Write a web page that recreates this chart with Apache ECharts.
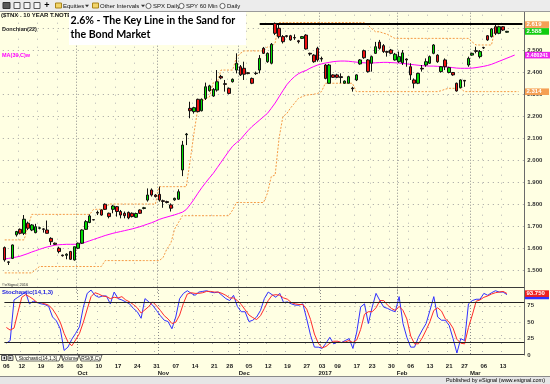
<!DOCTYPE html>
<html><head><meta charset="utf-8">
<script src="https://cdn.jsdelivr.net/npm/echarts@6/dist/echarts.min.js"></script>
<style>html,body{margin:0;padding:0;background:#FFFFE3}#c{width:550px;height:384px}</style>
</head><body><div id="c"></div>
<script>
// ---------- DATA ----------
const dates = [
'2016-09-06','2016-09-07','2016-09-08','2016-09-09','2016-09-12','2016-09-13','2016-09-14','2016-09-15','2016-09-16','2016-09-19','2016-09-20','2016-09-21','2016-09-22','2016-09-23','2016-09-26','2016-09-27','2016-09-28','2016-09-29','2016-09-30',
'2016-10-03','2016-10-04','2016-10-05','2016-10-06','2016-10-07','2016-10-10','2016-10-11','2016-10-12','2016-10-13','2016-10-14','2016-10-17','2016-10-18','2016-10-19','2016-10-20','2016-10-21','2016-10-24','2016-10-25','2016-10-26','2016-10-27','2016-10-28','2016-10-31',
'2016-11-01','2016-11-02','2016-11-03','2016-11-04','2016-11-07','2016-11-08','2016-11-09','2016-11-10','2016-11-11','2016-11-14','2016-11-15','2016-11-16','2016-11-17','2016-11-18','2016-11-21','2016-11-22','2016-11-23','2016-11-25','2016-11-28','2016-11-29','2016-11-30',
'2016-12-01','2016-12-02','2016-12-05','2016-12-06','2016-12-07','2016-12-08','2016-12-09','2016-12-12','2016-12-13','2016-12-14','2016-12-15','2016-12-16','2016-12-19','2016-12-20','2016-12-21','2016-12-22','2016-12-23','2016-12-27','2016-12-28','2016-12-29','2016-12-30',
'2017-01-03','2017-01-04','2017-01-05','2017-01-06','2017-01-09','2017-01-10','2017-01-11','2017-01-12','2017-01-13','2017-01-17','2017-01-18','2017-01-19','2017-01-20','2017-01-23','2017-01-24','2017-01-25','2017-01-26','2017-01-27','2017-01-30','2017-01-31',
'2017-02-01','2017-02-02','2017-02-03','2017-02-06','2017-02-07','2017-02-08','2017-02-09','2017-02-10','2017-02-13','2017-02-14','2017-02-15','2017-02-16','2017-02-17','2017-02-21','2017-02-22','2017-02-23','2017-02-24','2017-02-27','2017-02-28',
'2017-03-01','2017-03-02','2017-03-03','2017-03-06','2017-03-07','2017-03-08','2017-03-09','2017-03-10','2017-03-13','2017-03-14'];
const padCats = ['p1','p2','p3','p4'];

const opens = [
1.605,1.540,1.556,1.663,1.688,1.670,1.716,1.685,1.673,1.693,
1.690,1.685,1.647,1.625,1.602,1.571,1.570,1.587,1.549,1.602,
1.625,1.688,1.719,1.732,1.765,1.776,1.802,1.761,1.779,1.791,
1.769,1.761,1.765,1.761,1.743,1.776,1.783,1.821,1.867,1.844,
1.847,1.818,1.814,1.799,1.822,1.825,1.958,2.118,2.238,2.223,
2.279,2.227,2.283,2.318,2.294,2.321,2.383,2.350,2.329,2.359,
2.412,2.427,2.420,2.400,2.374,2.398,2.412,2.511,2.450,2.443,
2.624,2.602,2.564,2.568,2.568,2.560,2.545,2.556,2.571,2.488,
2.480,2.511,2.465,2.435,2.352,2.390,2.390,2.382,2.352,2.352,
2.330,2.367,2.440,2.500,2.458,2.443,2.488,2.539,2.523,2.496,
2.503,2.458,2.450,2.445,2.462,2.427,2.367,2.352,2.420,2.435,
2.443,2.488,2.480,2.405,2.458,2.401,2.401,2.352,2.332,2.365,
2.435,2.480,2.500,2.473,2.514,2.568,2.564,2.609,2.579,2.609,2.584];
const highs = [
1.610,1.543,1.619,1.681,1.692,1.753,1.723,1.712,1.713,1.700,
1.693,1.728,1.652,1.628,1.609,1.573,1.579,1.590,1.609,1.628,
1.688,1.730,1.756,1.733,1.773,1.779,1.806,1.764,1.799,1.794,
1.776,1.769,1.769,1.765,1.764,1.779,1.790,1.874,1.874,1.848,
1.882,1.823,1.818,1.806,1.832,1.870,2.090,2.126,2.268,2.245,
2.282,2.283,2.355,2.345,2.330,2.412,2.390,2.367,2.333,2.374,
2.488,2.435,2.450,2.403,2.378,2.405,2.480,2.517,2.492,2.535,
2.628,2.617,2.571,2.571,2.572,2.574,2.549,2.567,2.575,2.491,
2.484,2.518,2.473,2.440,2.440,2.393,2.395,2.397,2.365,2.386,
2.336,2.393,2.462,2.505,2.462,2.478,2.540,2.549,2.530,2.500,
2.508,2.490,2.496,2.503,2.465,2.443,2.374,2.400,2.435,2.465,
2.478,2.530,2.484,2.430,2.465,2.427,2.403,2.355,2.370,2.367,
2.473,2.491,2.518,2.503,2.518,2.571,2.603,2.617,2.613,2.612,2.590];
const lows = [
1.541,1.526,1.553,1.655,1.665,1.662,1.685,1.680,1.670,1.688,
1.673,1.669,1.617,1.617,1.579,1.564,1.552,1.549,1.546,1.598,
1.622,1.685,1.716,1.729,1.753,1.750,1.776,1.738,1.761,1.746,
1.738,1.738,1.734,1.742,1.740,1.758,1.779,1.814,1.837,1.833,
1.814,1.786,1.806,1.769,1.818,1.822,1.930,2.071,2.193,2.214,
2.220,2.224,2.276,2.314,2.290,2.314,2.370,2.314,2.302,2.355,
2.397,2.385,2.367,2.393,2.348,2.390,2.397,2.485,2.445,2.438,
2.571,2.556,2.533,2.560,2.545,2.549,2.533,2.553,2.505,2.477,
2.445,2.450,2.450,2.370,2.350,2.376,2.375,2.352,2.350,2.352,
2.314,2.362,2.436,2.463,2.400,2.405,2.485,2.505,2.490,2.473,
2.484,2.455,2.445,2.435,2.427,2.367,2.329,2.348,2.405,2.427,
2.440,2.484,2.445,2.400,2.412,2.397,2.386,2.314,2.329,2.336,
2.427,2.477,2.488,2.465,2.508,2.545,2.560,2.571,2.575,2.590,2.582];
const closes = [
1.549,1.538,1.617,1.678,1.670,1.734,1.693,1.708,1.700,1.695,
1.688,1.670,1.632,1.620,1.587,1.568,1.575,1.552,1.609,1.625,
1.685,1.723,1.749,1.731,1.762,1.753,1.779,1.746,1.794,1.769,
1.753,1.750,1.740,1.746,1.760,1.761,1.786,1.844,1.844,1.837,
1.821,1.815,1.810,1.784,1.829,1.859,2.071,2.121,2.227,2.241,
2.223,2.279,2.336,2.340,2.324,2.359,2.376,2.347,2.306,2.370,
2.443,2.390,2.393,2.396,2.352,2.396,2.465,2.488,2.488,2.529,
2.579,2.564,2.541,2.565,2.549,2.558,2.541,2.564,2.508,2.485,
2.450,2.458,2.462,2.374,2.435,2.379,2.379,2.378,2.362,2.382,
2.327,2.390,2.458,2.468,2.405,2.473,2.518,2.511,2.496,2.493,
2.488,2.484,2.473,2.490,2.458,2.390,2.352,2.397,2.417,2.450,
2.473,2.526,2.450,2.427,2.427,2.423,2.390,2.317,2.367,2.362,
2.465,2.488,2.497,2.496,2.513,2.549,2.599,2.579,2.609,2.594,2.588];

const donchianUpper = [
1.640,1.640,1.640,1.640,1.640,1.640,1.700,
1.756,1.756,1.756,1.756,1.756,1.756,1.756,1.756,1.756,1.756,1.756,1.756,1.756,1.756,1.756,1.756,
1.779,1.779,1.779,1.779,
1.803,1.803,1.803,1.803,1.803,1.803,1.803,1.803,1.803,1.803,1.803,1.803,1.803,
1.882,1.882,1.882,1.882,1.882,1.882,1.882,1.882,
2.000,2.126,2.240,2.268,2.283,2.290,2.355,2.355,
2.412,2.412,2.412,2.412,2.470,2.488,
2.499,2.499,2.499,2.499,2.499,2.499,2.517,2.517,2.535,
2.628,2.628,2.628,2.628,2.628,2.628,2.628,2.628,2.628,2.628,2.628,2.628,2.628,2.628,2.628,2.628,2.628,2.628,2.628,2.628,2.628,2.628,2.628,
2.617,2.600,2.586,2.586,2.580,2.575,2.565,
2.556,2.556,2.556,2.556,2.556,2.556,2.556,2.556,2.556,2.556,2.556,2.556,2.556,2.556,2.556,2.556,2.556,2.556,2.556,2.556,
2.540,2.526,2.526,2.526,2.526,2.526,2.603,
2.619,2.619,2.619,2.619,2.619,2.619];
const donchianLower = [
1.490,1.490,1.490,1.490,1.490,1.490,1.490,1.490,1.505,
1.519,1.519,1.519,1.519,1.519,1.519,1.519,1.519,1.519,1.519,1.519,1.519,1.519,1.519,1.519,1.519,1.519,
1.546,1.546,1.546,1.546,1.546,1.546,1.546,1.546,1.546,1.546,1.546,1.546,1.546,1.546,1.546,
1.560,1.600,1.625,1.690,1.720,
1.750,1.750,1.750,1.750,1.750,1.750,1.750,1.750,1.750,1.750,1.750,1.750,1.750,
1.776,1.810,1.810,1.810,1.810,1.810,1.810,1.810,1.810,
1.852,1.928,1.935,2.100,2.200,2.214,2.240,2.261,2.283,2.291,2.298,2.300,2.302,2.306,2.314,
2.352,2.352,2.352,2.352,2.352,2.352,2.352,2.352,
2.314,2.314,2.314,2.314,2.314,2.314,2.314,2.314,2.314,2.314,2.314,2.314,2.314,2.314,2.314,2.314,2.314,2.314,2.314,2.314,2.314,2.314,
2.318,2.325,2.329,2.329,2.329,2.329,
2.314,2.314,2.314,2.314,2.314,2.314,2.314,2.314,2.314,2.314,2.314,2.314,2.314,2.314,2.314];
const ma39 = [
1.553,1.556,1.559,1.562,1.566,1.572,1.578,1.585,1.591,1.597,
1.603,1.608,1.612,1.616,1.618,1.619,1.620,1.620,1.620,1.620,
1.624,1.630,1.636,1.642,1.648,1.654,1.660,1.665,1.670,1.674,
1.678,1.682,1.686,1.690,1.695,1.700,1.706,1.712,1.718,1.725,
1.733,1.739,1.744,1.749,1.754,1.760,1.766,1.778,1.800,1.825,
1.852,1.877,1.900,1.922,1.943,1.968,1.993,2.018,2.043,2.066,
2.082,2.096,2.117,2.137,2.155,2.170,2.185,2.200,2.215,2.238,
2.262,2.290,2.318,2.345,2.365,2.382,2.395,2.404,2.410,2.420,
2.428,2.435,2.440,2.444,2.447,2.450,2.452,2.453,2.453,2.452,
2.450,2.448,2.446,2.445,2.444,2.444,2.445,2.446,2.447,2.447,
2.446,2.445,2.444,2.442,2.440,2.438,2.436,2.434,2.432,2.431,
2.430,2.430,2.429,2.428,2.427,2.425,2.423,2.421,2.420,2.420,
2.420,2.421,2.423,2.426,2.429,2.433,2.438,2.445,2.452,2.459,
2.466,2.473,2.480241];
const stochK = [
18,22,84,88,92,96,78,82,80,78, 77,74,58,52,40,7,12,24,33,43,
73,94,99,91,88,90,90,78,96,86, 84,81,78,71,66,56,86,81,76,68,
60,53,51,40,58,86,94,98,94,91, 96,97,98,96,95,96,91,86,83,91,
74,66,66,51,53,58,68,86,96,92, 88,94,80,81,78,76,76,78,55,30,
12,12,10,18,27,17,20,19,22,25, 10,35,73,78,48,73,94,83,73,71,
68,66,89,48,27,12,12,27,38,48, 68,89,58,53,53,45,25,3,25,22,
78,83,85,85,94,91,95,98,96,96, 92];
const stochD = [
42,38,41,65,88,92,89,85,80,80, 78,76,70,61,50,33,20,14,23,33,
50,70,89,95,93,90,89,86,88,87, 89,84,81,77,72,64,69,74,81,75,
68,60,55,48,50,61,79,93,95,94, 94,95,97,97,96,96,94,91,87,87,
83,77,69,61,57,54,60,71,83,91, 92,91,87,85,80,78,77,77,70,54,
32,18,11,13,18,21,21,19,20,22, 19,23,39,62,66,66,72,83,83,76,
71,68,74,68,55,29,17,17,26,38, 51,68,72,67,55,50,41,24,18,17,
42,61,82,84,88,90,93,95,96,97, 93.75];
const priceAxis = {min: 1.4, max: 2.7, step: 0.1, firstLabel: 1.5, lastLabel: 2.5};
const stochAxis = {min: 0, max: 103.7, step: 25};
const stochBands = [80, 20];
const keyLevel = 2.624;
const keyLineStart = '2016-12-08';
const MONTHS = ['Jan','Feb','Mar','Apr','May','Jun','Jul','Aug','Sep','Oct','Nov','Dec'];

// ---------- DERIVED ----------
const cats = dates.concat(padCats);
const dow = d => new Date(d + 'T00:00:00Z').getUTCDay();
const isWeekStart = cats.map((d, i) => i < dates.length && (i === 0 || dow(d) < dow(cats[i - 1])));
const isMonthStart = cats.map((d, i) => i > 0 && i < dates.length && d.slice(5, 7) !== cats[i - 1].slice(5, 7));
const ohlc = dates.map((d, i) => [opens[i], closes[i], lows[i], highs[i]]);
const BG = '#FFFFE3';
const F = '"Liberation Sans", Arial, sans-serif';
const GL = 2.8, GW = 521.5;

const chart = echarts.init(document.getElementById('c'));
const monthSplit = {show: true, interval: i => isMonthStart[i], lineStyle: {color: '#8a8a8a', type: [1, 2], width: 1}};
const weekSplit = {show: true, interval: i => isWeekStart[i] && !isMonthStart[i] && i > 0, lineStyle: {color: '#b4b4b4', type: [1, 7], width: 1}};
const hidden = {axisLine: {show: false}, axisTick: {show: false}};
const colors14 = ['rgba(0,0,0,0)'].concat(new Array(13).fill('#a0a0a0'));

chart.setOption({
  backgroundColor: BG,
  animation: false,
  grid: [
    {left: GL, width: GW, top: 6.7, height: 286},
    {left: GL, width: GW, top: 287, height: 68}
  ],
  xAxis: [
    Object.assign({type: 'category', gridIndex: 0, data: cats, axisLabel: {show: false}, splitLine: monthSplit}, hidden),
    Object.assign({type: 'category', gridIndex: 0, data: cats, axisLabel: {show: false}, splitLine: weekSplit}, hidden),
    Object.assign({type: 'category', gridIndex: 1, data: cats, position: 'bottom', splitLine: monthSplit,
      axisLabel: {interval: i => isWeekStart[i], formatter: v => v.slice(8, 10), fontSize: 6, fontWeight: 'bold', fontFamily: F, color: '#1a1a1a', margin: 8}}, hidden),
    Object.assign({type: 'category', gridIndex: 1, data: cats, position: 'bottom', offset: 7, splitLine: weekSplit,
      axisLabel: {interval: i => isMonthStart[i], formatter: v => { const m = +v.slice(5, 7) - 1; return m === 0 ? v.slice(0, 4) : MONTHS[m]; },
        fontSize: 6, fontWeight: 'bold', fontFamily: F, color: '#1a1a1a', margin: 8, padding: [0, 0, 0, 6]}}, hidden)
  ],
  yAxis: [
    {type: 'value', gridIndex: 0, position: 'right', min: priceAxis.min, max: priceAxis.max, interval: priceAxis.step,
      axisLine: {show: true, lineStyle: {color: '#6a6a6a'}}, axisTick: {show: false},
      axisLabel: {formatter: v => (v > priceAxis.firstLabel - 0.05 && v < priceAxis.lastLabel + 0.05) ? v.toFixed(3) : '',
        fontSize: 6, fontWeight: 'bold', fontFamily: F, color: '#333', margin: 3, align: 'left'},
      splitLine: {show: true, lineStyle: {color: colors14, type: [1, 4]}}},
    {type: 'value', gridIndex: 1, position: 'right', min: stochAxis.min, max: stochAxis.max, interval: stochAxis.step,
      axisLine: {show: true, lineStyle: {color: '#6a6a6a'}}, axisTick: {show: false},
      axisLabel: {formatter: v => (v % 25 === 0 && v < 100) ? String(v) : '', fontSize: 6, fontWeight: 'bold', fontFamily: F, color: '#333', margin: 3, align: 'left'},
      splitLine: {show: true, lineStyle: {color: ['rgba(0,0,0,0)', '#a0a0a0', '#a0a0a0', '#a0a0a0', 'rgba(0,0,0,0)', 'rgba(0,0,0,0)'], type: [1, 4]}}}
  ],
  series: [
    {type: 'line', name: 'DonchianUpper', xAxisIndex: 0, yAxisIndex: 0, data: donchianUpper, symbol: 'none', z: 3,
      lineStyle: {color: '#F59A45', width: 1, type: [2, 1.5]}},
    {type: 'line', name: 'DonchianLower', xAxisIndex: 0, yAxisIndex: 0, data: donchianLower, symbol: 'none', z: 3,
      lineStyle: {color: '#F59A45', width: 1, type: [2, 1.5]}},
    {type: 'line', name: 'MA', xAxisIndex: 0, yAxisIndex: 0, data: ma39, symbol: 'none', z: 3,
      lineStyle: {color: '#FF00FF', width: 1}},
    {type: 'candlestick', xAxisIndex: 0, yAxisIndex: 0, data: ohlc, barWidth: 3, z: 5,
      itemStyle: {color: '#00DD00', color0: '#EE1111', borderColor: '#111', borderColor0: '#111', borderWidth: 1},
      markLine: {symbol: 'none', silent: true, animation: false, label: {show: false},
        lineStyle: {color: '#000', width: 2, type: 'solid'},
        data: [[{coord: [keyLineStart, keyLevel]}, {coord: [cats[cats.length - 1], keyLevel]}]]}},
    {type: 'line', name: '%K', xAxisIndex: 2, yAxisIndex: 1, data: stochK, symbol: 'none', z: 4,
      lineStyle: {color: '#3030FF', width: 1},
      markLine: {symbol: 'none', silent: true, animation: false, label: {show: false},
        lineStyle: {color: '#222', width: 1, type: 'solid'}, data: stochBands.map(v => ({yAxis: v}))}},
    {type: 'line', name: '%D', xAxisIndex: 2, yAxisIndex: 1, data: stochD, symbol: 'none', z: 4,
      lineStyle: {color: '#FF2A2A', width: 1}}
  ]
});

// ---------- DECORATION ----------
function txt(x, y, text, font, fill, align, va, z) {
  align = align || 'left'; va = va || 'middle';
  return {type: 'text', z: z || 60, silent: true, style: {x, y, text, font, fill, align, verticalAlign: va, textAlign: align, textVerticalAlign: va}};
}
function rect(x, y, w, h, fill, stroke, z) {
  return {type: 'rect', z: z || 55, silent: true, shape: {x, y, width: w, height: h}, style: {fill: fill || 'none', stroke: stroke || 'none', lineWidth: 1}};
}
function ln(x1, y1, x2, y2, stroke, w, z) {
  return {type: 'line', z: z || 58, silent: true, shape: {x1, y1, x2, y2}, style: {stroke, lineWidth: w || 1}};
}
function tri(pts, fill) { return {type: 'polygon', z: 61, silent: true, shape: {points: pts}, style: {fill}}; }
function circ(cx, cy, r) { return {type: 'circle', z: 61, silent: true, shape: {cx, cy, r}, style: {fill: '#fafafa', stroke: '#444', lineWidth: 0.8}}; }

const py = v => chart.convertToPixel({yAxisIndex: 0}, v);
const sy = v => chart.convertToPixel({yAxisIndex: 1}, v);
const small = 'bold 6px ' + F;
const g = [];
// toolbar
g.push(rect(0, 0, 550, 11.5, '#ECECEC', null, 54));
g.push(ln(0, 11.5, 550, 11.5, '#9a9a9a', 1, 56));
g.push(rect(3, 2.5, 7, 6, '#5a5a5a', '#333'));
g.push(rect(14, 2.5, 6, 6, '#f4f4f4', '#555'));
g.push(rect(24, 2.5, 6, 6, '#f4f4f4', '#555'));
g.push(rect(34, 2.5, 6, 6, '#f4f4f4', '#555'));
g.push(txt(47, 6, '+', 'bold 9px ' + F, '#000', 'center'));
g.push(rect(55.5, 3, 6, 5, '#F3D56A', '#A88418'));
g.push(txt(63, 6, 'Equities', '6px ' + F, '#111'));
g.push(tri([[85, 4.8], [89, 4.8], [87, 7.2]], '#333'));
g.push(rect(92.5, 3, 6, 5, '#F3D56A', '#A88418'));
g.push(txt(100, 6, 'Other Intervals', '6px ' + F, '#111'));
g.push(tri([[141, 4.8], [145, 4.8], [143, 7.2]], '#333'));
g.push(circ(148.5, 6, 2.6));
g.push(txt(153, 6, 'SPX Daily', '6px ' + F, '#111'));
g.push(circ(181.5, 6, 2.6));
g.push(txt(186, 6, 'SPY 60 Min', '6px ' + F, '#111'));
g.push(circ(222.5, 6, 2.6));
g.push(txt(227, 6, 'Daily', '6px ' + F, '#111'));
// left labels
g.push(txt(1, 15.5, '($TNX . 10 YEAR T.NOTE INDEX)', 'bold 6px "Liberation Sans Narrow", ' + F, '#111', 'left', 'middle', 50));
g.push(txt(2, 29, 'Donchian(22)', 'bold 5.5px ' + F, '#222'));
g.push(txt(2, 55, 'MA(39,C)w', 'bold 5.5px ' + F, '#FF00FF'));
g.push(txt(2, 284.5, '\u00A9eSignal 2016', '4px ' + F, '#333'));
// title box
g.push(rect(69, 12, 177, 33, '#FFFFFF', null, 56));
g.push(txt(70.5, 20.5, '2.6% - The Key Line in the Sand for', 'bold 10.6px Lato, ' + F, '#000', 'left', 'middle', 62));
g.push(txt(70.5, 34.5, 'the Bond Market', 'bold 10.6px Lato, ' + F, '#000', 'left', 'middle', 62));
// panel separators
g.push(ln(0, 287.5, GL + GW, 287.5, '#3a3a3a', 1));
g.push(ln(0, 354.5, GL + GW, 354.5, '#3a3a3a', 1));
g.push(txt(2, 292.5, 'Stochastic(14,1,3)', small, '#2020E0'));
// tabs
g.push(rect(1.5, 355.5, 5, 5, '#E2E2E2', '#555'));
g.push(tri([[5, 356.5], [5, 359.5], [3, 358]], '#222'));
g.push(rect(8, 355.5, 5, 5, '#E2E2E2', '#555'));
g.push(tri([[9.5, 356.5], [9.5, 359.5], [11.5, 358]], '#222'));
[[15, 61, 'Stochastic(14,1,3)'], [61, 79, 'Volume'], [79, 102, 'RSI(8,C)']].forEach(t => {
  g.push({type: 'polygon', z: 57, silent: true, shape: {points: [[t[0], 355], [t[0] + 2, 361], [t[1] - 2, 361], [t[1], 355]]}, style: {fill: '#FFFFF4', stroke: '#444', lineWidth: 0.8}});
  g.push(txt((t[0] + t[1]) / 2, 358.2, t[2], '4.8px ' + F, '#111', 'center'));
});
// bottom bar
g.push(rect(0, 376.5, 550, 8, '#E6E6E6', null, 54));
g.push(ln(0, 376.5, 550, 376.5, '#8a8a8a', 1, 56));
g.push(txt(545, 380.5, 'Published by eSignal (www.esignal.com)', '5.5px ' + F, '#000', 'right'));
// right-side value boxes
function vbox(y, text, fill, w, font) {
  g.push(rect(525, y - 3.2, w || 24, 6.6, fill, null, 63));
  g.push(txt(526.5, y + 0.2, text, font || small, '#FFFFFF', 'left', 'middle', 64));
}
const nU = donchianUpper.length - 1, nL = donchianLower.length - 1, nM = ma39.length - 1, nC = closes.length - 1;
vbox(py(donchianUpper[nU]), donchianUpper[nU].toFixed(3), '#F5A055');
vbox(py(closes[nC]), closes[nC].toFixed(3), '#10CC10');
vbox(py(ma39[nM]), ma39[nM].toFixed(6), '#EE22EE', 25, 'bold 5.2px ' + F);
vbox(py(donchianLower[nL]), donchianLower[nL].toFixed(3), '#F5A055');
vbox(sy(stochK[stochK.length - 1]) + 1.2, '', '#3030FF');
vbox(sy(stochD[stochD.length - 1]), stochD[stochD.length - 1].toFixed(3), '#EE2020');
chart.setOption({graphic: {elements: g}});
</script>
</body></html>
